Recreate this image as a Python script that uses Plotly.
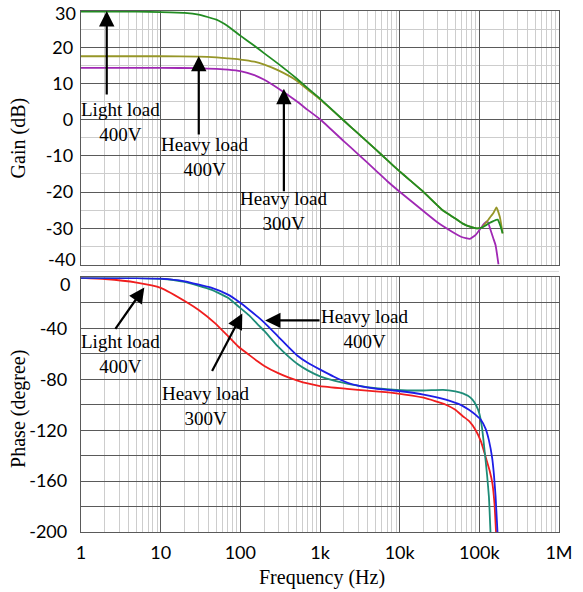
import plotly.graph_objects as go

# ---------------- DATA ----------------
# Gain (dB)
freq_gain_light400 = [1, 5, 10, 20, 30, 50, 70, 100, 150, 200, 300, 500, 700, 1000, 2000, 3000, 5000,
                      7000, 10000, 13400, 20000, 35000, 50000, 62000, 80000, 92000, 105000, 120000,
                      132000, 150000, 170000, 185000, 196000]
gain_light400 = [29.8, 29.8, 29.7, 29.5, 29.0, 27.6, 25.8, 23.2, 20.4, 18.3, 15.4, 11.5, 8.7, 5.8, -0.3,
                 -3.8, -8.2, -11.2, -14.3, -16.7, -20.0, -25.1, -27.3, -28.7, -29.7, -30.0, -29.9, -29.2,
                 -28.6, -28.0, -27.6, -29.5, -31.4]

freq_gain_heavy400 = [1, 5, 10, 30, 50, 70, 100, 150, 200, 300, 500, 700, 1000, 2000, 3000, 5000, 7000,
                      10000, 13400, 20000, 35000, 50000, 62000, 80000, 92000, 105000, 110000, 132000,
                      150000, 164000, 181000, 196000]
gain_heavy400 = [17.5, 17.5, 17.5, 17.4, 17.2, 16.9, 16.6, 16.0, 15.2, 13.6, 10.9, 8.3, 5.6, -0.3, -3.8,
                 -8.2, -11.2, -14.3, -16.7, -20.0, -25.1, -27.3, -28.7, -29.7, -30.0, -29.9, -29.6,
                 -27.4, -25.8, -24.2, -26.9, -31.4]

freq_gain_heavy300 = [1, 5, 10, 30, 50, 70, 100, 150, 200, 300, 500, 700, 1000, 2000, 3000, 5000, 7000,
                      10000, 20000, 30000, 46000, 60000, 76000, 90000, 100000, 115000, 126000, 139000,
                      150000, 160000, 174000]
gain_heavy300 = [14.3, 14.3, 14.3, 14.2, 14.0, 13.8, 13.4, 12.3, 11.0, 8.6, 5.2, 2.7, 0.1, -6.0, -9.5,
                 -14.0, -17.0, -19.9, -25.3, -28.4, -31.0, -32.4, -32.9, -31.8, -30.5, -28.7, -28.0,
                 -30.6, -32.8, -34.7, -40.0]

# Phase (degree)
freq_phase_light400 = [1, 5, 10, 20, 43, 70, 94, 130, 166, 200, 294, 400, 522, 700, 1020, 1500, 2000,
                       3000, 5000, 9100, 20000, 35000, 50000, 62000, 72000, 82000, 92000, 100000,
                       108000, 115000, 125000, 132000, 138000]
phase_light400 = [-0.3, -0.5, -1.0, -3.5, -9.5, -16.0, -22.6, -30.0, -37.0, -42.0, -54.0, -62.0, -68.0,
                  -73.0, -77.9, -81.0, -82.8, -85.0, -87.0, -88.4, -88.8, -88.3, -89.5, -91.0, -93.0,
                  -96.0, -101.0, -106.8, -118.0, -133.0, -155.0, -172.6, -200.0]

freq_phase_heavy400 = [1, 5, 10, 20, 43, 70, 94, 130, 166, 200, 294, 400, 522, 700, 1020, 1500, 2180,
                       3000, 5000, 9100, 20000, 38000, 60000, 74000, 90000, 105000, 120000, 132000,
                       145000, 152000, 160000, 169000]
phase_heavy400 = [-0.3, -0.5, -0.9, -3.0, -8.0, -13.5, -18.7, -25.5, -31.0, -35.5, -46.0, -54.5, -61.5,
                  -67.0, -72.6, -78.0, -82.5, -85.0, -87.3, -89.0, -92.0, -96.0, -100.5, -104.0, -108.0,
                  -112.0, -119.0, -128.0, -142.0, -154.0, -172.0, -200.0]

freq_phase_heavy300 = [1, 2, 5, 10, 22, 30, 48, 70, 94, 130, 166, 200, 294, 400, 522, 700, 1000, 2180,
                       3000, 5000, 9100, 20000, 38000, 50000, 62000, 75000, 90000, 105000, 120000, 135000,
                       146000, 155000, 162000]
phase_heavy300 = [-0.3, -1.2, -4.0, -8.1, -20.0, -25.5, -35.8, -46.0, -54.2, -61.0, -66.0, -69.5, -75.0,
                  -78.5, -81.0, -83.3, -85.3, -87.5, -88.3, -89.5, -91.0, -94.5, -100.0, -104.0, -109.0,
                  -113.0, -120.0, -129.0, -141.0, -152.0, -162.0, -178.0, -200.0]

tick_freqs = [1, 10, 100, 1000, 10000, 100000, 1000000]
tick_freq_labels = ["1", "10", "100", "1k", "10k", "100k", "1M"]
gain_ticks = [30, 20, 10, 0, -10, -20, -30, -40]
gain_tick_labels = ["", "20", "10", "0", "-10", "-20", "-30", ""]      # "30" and "-40" drawn separately
phase_ticks = [0, -40, -80, -120, -160, -200]
phase_tick_labels = ["", "-40", "-80", "-120", "-160", "-200"]         # "0" drawn separately

# ---------------- STYLE ----------------
C_GREEN = "rgb(34,140,34)"
C_OLIVE = "rgb(150,150,40)"
C_PURPLE = "rgb(160,40,180)"
C_RED = "rgb(240,30,30)"
C_BLUE = "rgb(30,30,230)"
C_TEAL = "rgb(30,140,120)"
MAJOR = "rgb(90,90,90)"
MINOR = "rgb(205,205,205)"
TICKFONT = dict(family="Lato", size=18, color="black")
SERIF = "Liberation Serif"

W, H = 583, 592
L, R, T, B = 81, 19, 10, 60
PW, PH = W - L - R, H - T - B


def px2x(px):
    return (px - L) / PW


def py2y(py):
    return 1 - (py - T) / PH


fig = go.Figure()

LINE_KW = dict(width=1.8, shape="spline", smoothing=0.4)

for f, v, c in [(freq_gain_heavy300, gain_heavy300, C_PURPLE),
                (freq_gain_heavy400, gain_heavy400, C_OLIVE),
                (freq_gain_light400, gain_light400, C_GREEN)]:
    fig.add_trace(go.Scatter(x=f, y=v, mode="lines", line=dict(color=c, **LINE_KW),
                             xaxis="x", yaxis="y", showlegend=False))

for f, v, c in [(freq_phase_heavy300, phase_heavy300, C_RED),
                (freq_phase_light400, phase_light400, C_TEAL),
                (freq_phase_heavy400, phase_heavy400, C_BLUE)]:
    fig.add_trace(go.Scatter(x=f, y=v, mode="lines", line=dict(color=c, **LINE_KW),
                             xaxis="x2", yaxis="y2", showlegend=False))

xcommon = dict(type="log", range=[0, 6], tickvals=tick_freqs, ticktext=tick_freq_labels,
               showgrid=True, gridcolor=MAJOR, gridwidth=1,
               minor=dict(dtick="D1", showgrid=True, gridcolor=MINOR, gridwidth=1, ticks=""),
               showline=True, linecolor=MAJOR, linewidth=1.3, mirror=True, zeroline=False,
               ticks="", tickfont=TICKFONT)

top_dom = [py2y(264), 1]
bot_dom = [0, py2y(277)]

fig.update_layout(
    width=W, height=H, margin=dict(l=L, r=R, t=T, b=B),
    paper_bgcolor="white", plot_bgcolor="white",
    xaxis=dict(xcommon, anchor="y", domain=[0, 1], showticklabels=False),
    yaxis=dict(anchor="x", domain=top_dom, range=[-40, 30], tickvals=gain_ticks, ticktext=gain_tick_labels,
               showgrid=True, gridcolor=MAJOR, gridwidth=1,
               minor=dict(dtick=5, showgrid=True, gridcolor=MINOR, gridwidth=1, ticks=""),
               showline=True, linecolor=MAJOR, linewidth=1.3, mirror=True, zeroline=False,
               ticks="", tickfont=TICKFONT, ticklabelstandoff=3),
    xaxis2=dict(xcommon, anchor="y2", domain=[0, 1], matches="x", ticklabelstandoff=4),
    yaxis2=dict(anchor="x2", domain=bot_dom, range=[-200, 0], tickvals=phase_ticks, ticktext=phase_tick_labels,
                showgrid=True, gridcolor=MAJOR, gridwidth=1,
                minor=dict(dtick=20, showgrid=True, gridcolor=MAJOR, gridwidth=1, ticks=""),
                showline=True, linecolor=MAJOR, linewidth=1.3, mirror=True, zeroline=False,
                ticks="", tickfont=TICKFONT, ticklabelstandoff=9),
)

# faint separator between the two panels
fig.add_shape(type="line", xref="paper", yref="paper", x0=0, x1=1, y0=py2y(271), y1=py2y(271),
              line=dict(color="rgb(220,220,220)", width=1))

annos = []
# edge tick labels, placed by hand so they do not collide or get dropped
for txt, rx, cy in [("30", 78, 12), ("-40", 78, 258), ("0", 72, 284)]:
    annos.append(dict(text=txt, x=px2x(rx), y=py2y(cy), xref="paper", yref="paper", showarrow=False,
                      xanchor="right", yanchor="middle", font=TICKFONT))

# axis titles
titles = [dict(text="Gain (dB)", x=px2x(18), y=py2y(137), textangle=-90),
          dict(text="Phase (degree)", x=px2x(18), y=py2y(409), textangle=-90),
          dict(text="Frequency (Hz)", x=px2x(325), y=py2y(578))]
for a in titles:
    a.update(xref="paper", yref="paper", showarrow=False, xanchor="center", yanchor="middle",
             font=dict(family=SERIF, size=20, color="black"))
    annos.append(a)

# labels
labels = [("Light load<br>400V", 121, 121.5),
          ("Heavy load<br>400V", 206, 156.5),
          ("Heavy load<br>300V", 286, 210),
          ("Light load<br>400V", 121, 354),
          ("Heavy load<br>300V", 207, 406),
          ("Heavy load<br>400V", 368, 328.5)]
for txt, lx, ly in labels:
    annos.append(dict(text=txt, x=px2x(lx), y=py2y(ly), xref="paper", yref="paper", showarrow=False,
                      xanchor="center", yanchor="middle",
                      font=dict(family=SERIF, size=19, color="black")))

# arrows: head (px,py), tail (px,py)
arrows = [((107, 10), (107, 95)),
          ((200, 55), (200, 135)),
          ((286, 88), (286, 192)),
          ((145, 287), (115, 330)),
          ((244, 313), (213, 372)),
          ((267, 320), (323, 320))]
for (hx, hy), (tx, ty) in arrows:
    annos.append(dict(text="", x=px2x(hx), y=py2y(hy), xref="paper", yref="paper",
                      ax=tx - hx, ay=ty - hy, axref="pixel", ayref="pixel",
                      showarrow=True, arrowhead=2, arrowsize=1.4, arrowwidth=2.2,
                      arrowcolor="black", standoff=0, startstandoff=0))

fig.update_layout(annotations=annos)

fig.write_html("out.html")
